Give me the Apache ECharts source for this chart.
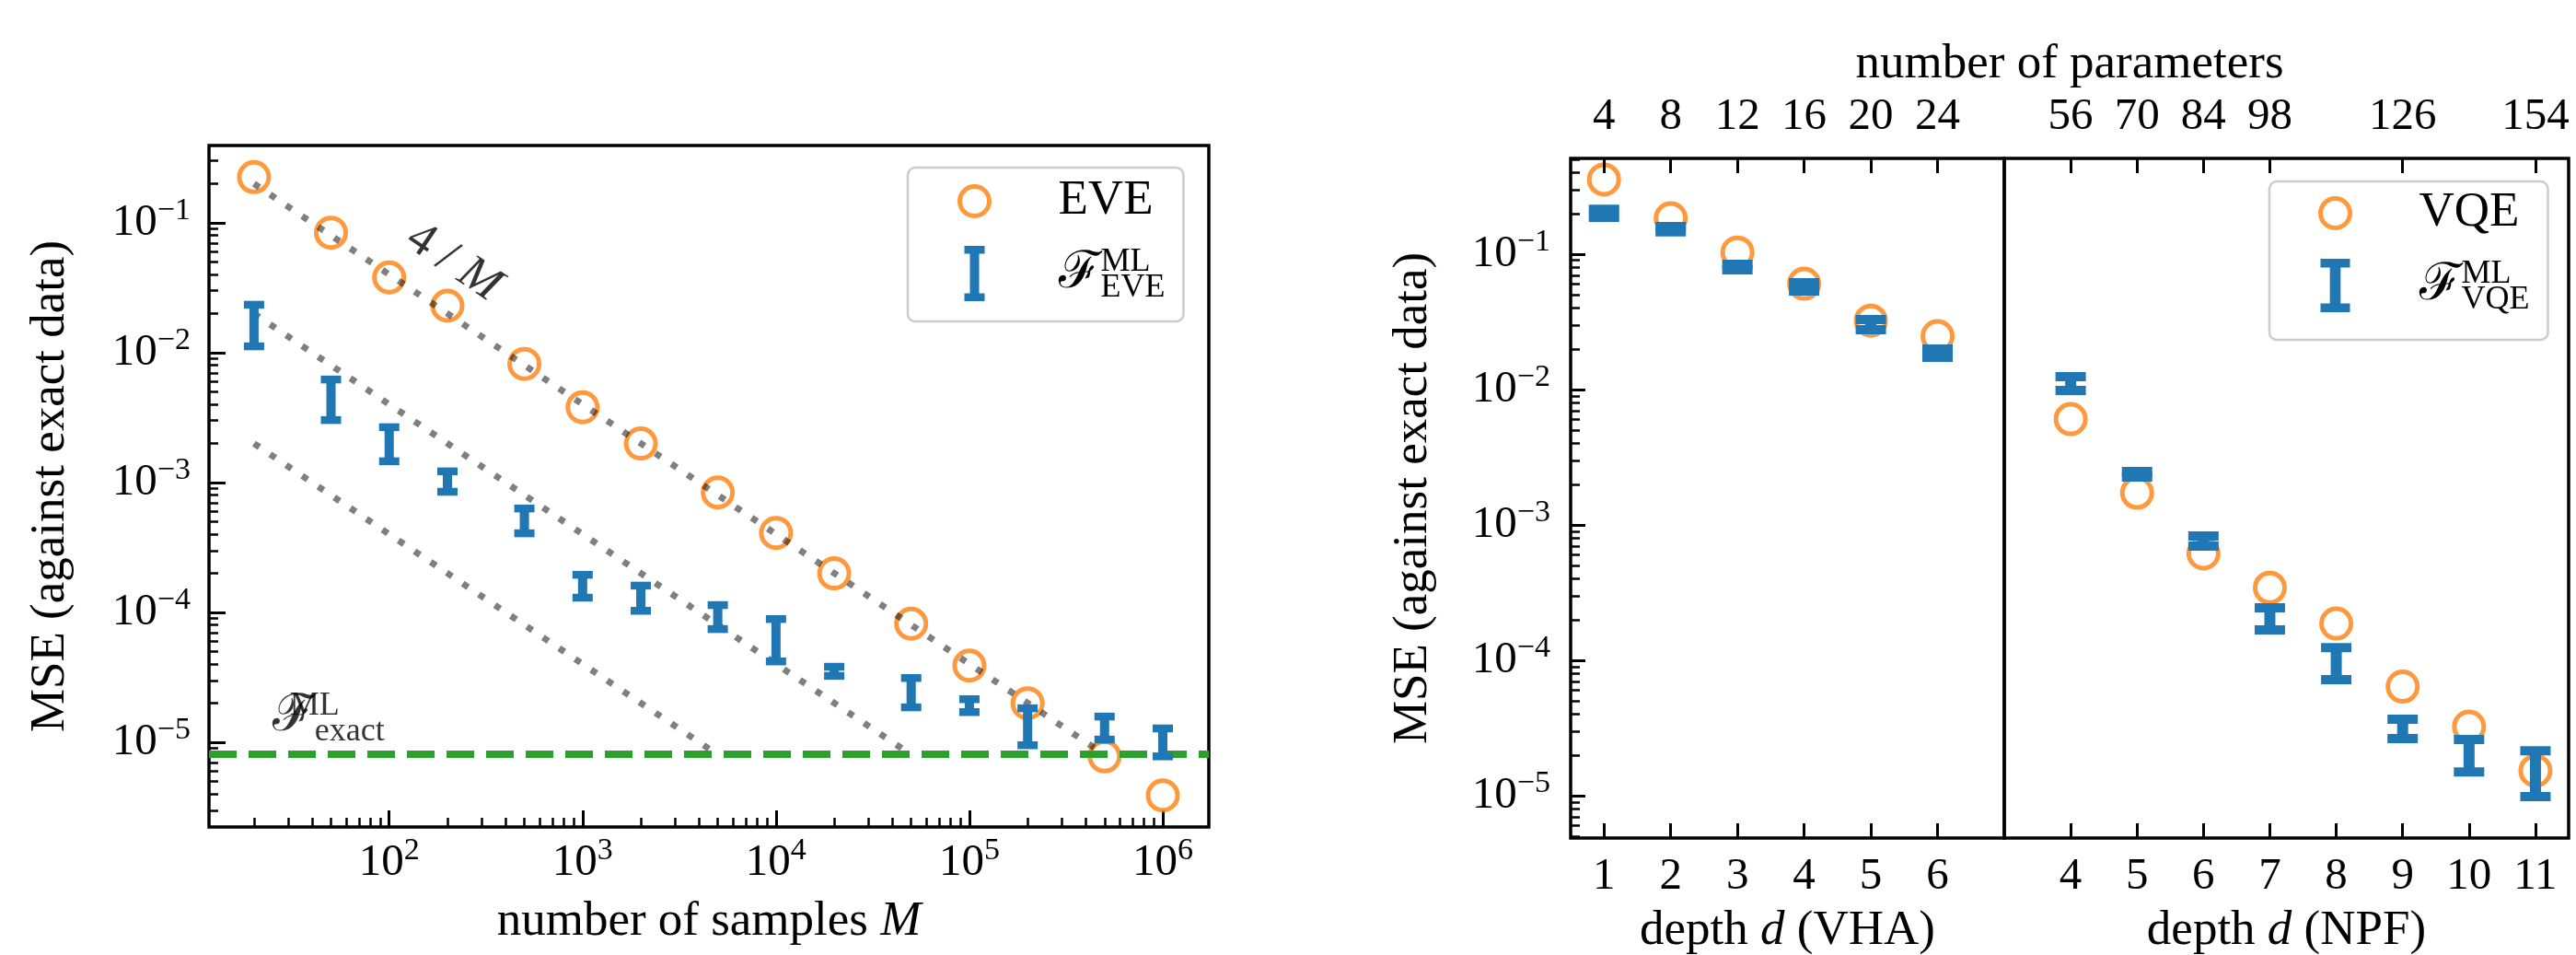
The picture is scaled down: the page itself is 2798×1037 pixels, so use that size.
<!DOCTYPE html>
<html>
<head>
<meta charset="utf-8">
<script src="https://cdn.jsdelivr.net/npm/echarts@6/dist/echarts.min.js"></script>
<style>
  html, body { margin: 0; padding: 0; background: #fff; }
  #chart { width: 2798px; height: 1037px; }
</style>
</head>
<body>
<div id="chart"></div>
<script>
// left panel: MSE against number of samples M
var samplesM = [20, 50, 100, 200, 500, 1000, 2000, 5000, 1e4, 2e4, 5e4, 1e5, 2e5, 5e5, 1e6];
var eveMse = [0.225, 0.084, 0.038, 0.023, 0.0082, 0.0038, 0.0020, 0.00084, 0.00041, 0.00020, 8.2e-5, 3.9e-5, 2.0e-5, 7.8e-6, 3.9e-6];
var eveMlLow = [0.0112, 3.03e-3, 1.46e-3, 8.5e-4, 4.07e-4, 1.30e-4, 1.03e-4, 7.45e-5, 4.2e-5, 3.25e-5, 1.86e-5, 1.71e-5, 9.5e-6, 1.05e-5, 7.8e-6];
var eveMlHigh = [0.0234, 6.22e-3, 2.67e-3, 1.22e-3, 6.32e-4, 1.95e-4, 1.61e-4, 1.14e-4, 8.9e-5, 3.82e-5, 3.13e-5, 2.15e-5, 1.83e-5, 1.58e-5, 1.28e-5];
var exactMse = 8.2e-6;
var guideA = [[20, 0.2], [4.9e5, 8.2e-6]];
var guideB = [[20, 0.02], [4.9e4, 8.2e-6]];
var guideC = [[20, 0.002], [4.9e3, 8.2e-6]];
var sampleDecades = [2, 3, 4, 5, 6];
var mseDecades = [-5, -4, -3, -2, -1];
var slopeLabelAt = [215, 0.0496];
var exactLabelAt = [48.5, 1.58e-5];

// right panel: VHA and NPF depths
var vhaDepth = [1, 2, 3, 4, 5, 6];
var vhaParams = [4, 8, 12, 16, 20, 24];
var vhaVqe = [0.356, 0.184, 0.103, 0.0605, 0.0323, 0.0248];
var vhaMlLow = [0.187, 0.146, 0.0766, 0.0534, 0.0277, 0.0173];
var vhaMlHigh = [0.215, 0.160, 0.0842, 0.0615, 0.0329, 0.0199];
var npfDepth = [4, 5, 6, 7, 8, 9, 10, 11];
var npfVqe = [6.05e-3, 1.73e-3, 6.16e-4, 3.44e-4, 1.87e-4, 6.4e-5, 3.24e-5, 1.53e-5];
var npfMlLow = [9.84e-3, 2.26e-3, 6.98e-4, 1.68e-4, 7.19e-5, 2.64e-5, 1.50e-5, 9.84e-6];
var npfMlHigh = [1.244e-2, 2.48e-3, 8.28e-4, 2.44e-4, 1.24e-4, 3.67e-5, 2.60e-5, 2.15e-5];
var npfParamDepth = [4, 5, 6, 7, 9, 11];
var npfParams = [56, 70, 84, 98, 126, 154];

var BLUE = '#1f77b4', ORANGE = '#ff7f0e', GREEN = '#2ca02c', GUIDE = 'rgba(0,0,0,0.5)';
var SERIF = '"Liberation Serif", "DejaVu Serif", serif';
var FS = 53, TICK = 49, SUP = 34;

function lg(v) { return Math.log10(v); }

function pairs(xs, ys, logX) {
    return xs.map(function (x, i) { return [logX ? lg(x) : x, lg(ys[i])]; });
}

function bars(xs, lo, hi, logX) {
    return xs.map(function (x, i) { return [logX ? lg(x) : x, lg(lo[i]), lg(hi[i])]; });
}

function guidePoints(g) {
    return g.map(function (p) { return [lg(p[0]), lg(p[1])]; });
}

function minorTicks(ext) {
    var out = [];
    for (var e = Math.floor(ext[0]); e <= Math.ceil(ext[1]); e++) {
        for (var k = 2; k <= 9; k++) {
            var v = e + Math.log10(k);
            if (v >= ext[0] && v <= ext[1]) out.push(v);
        }
    }
    return out;
}

function powLabel(v) {
    var e = Math.round(v);
    return '{b|10}{s|' + (e < 0 ? '\u2212' + (-e) : e) + '}';
}

function txt(extra) {
    var o = { fontFamily: SERIF, color: '#000', fontSize: FS };
    for (var k in extra) o[k] = extra[k];
    return o;
}

var powRich = {
    b: txt({ fontSize: TICK, lineHeight: 60 }),
    s: txt({ fontSize: SUP, lineHeight: 34, verticalAlign: 'top' })
};
var calRich = {
    t: txt({ lineHeight: 60 }),
    F: txt({ fontSize: 56, lineHeight: 60 }),
    u: txt({ fontSize: 36, lineHeight: 32, width: 0, padding: [2, 0, 26, 0] }),
    d: txt({ fontSize: 36, lineHeight: 28, padding: [32, 0, 0, 0] }),
    n: txt({ lineHeight: 60 }),
    i: txt({ lineHeight: 60, fontStyle: 'italic' })
};

var LEFT_X = [lg(11.7), lg(1.73e6)];
var LEFT_Y = [lg(2.23e-6), lg(0.394)];
var RIGHT_Y = [lg(4.87e-6), lg(0.51)];
var VHA_X = [0.5, 7.0];
var NPF_X = [3.0, 11.5];

function majorTick(values, len) {
    return { show: true, inside: true, length: len, lineStyle: { color: '#000', width: 3 }, customValues: values };
}
function minorTick(values) {
    return { show: true, inside: true, length: 10, lineStyle: { color: '#000', width: 2.5 }, customValues: values };
}
function baseAxis(grid, pos, ext) {
    return {
        type: 'value', gridIndex: grid, position: pos, min: ext[0], max: ext[1],
        axisLine: { show: false }, splitLine: { show: false }, minorTick: { show: false },
        axisTick: { show: false }, axisLabel: { show: false }
    };
}
function extend(a, extra) {
    for (var k in extra) a[k] = extra[k];
    return a;
}

function errorBarRenderer(capW, barW, capH) {
    return function (params, api) {
        var x = api.value(0);
        var top = api.coord([x, api.value(2)]);
        var bot = api.coord([x, api.value(1)]);
        var style = { fill: BLUE };
        return {
            type: 'group',
            children: [
                { type: 'rect', shape: { x: top[0] - barW / 2, y: top[1], width: barW, height: bot[1] - top[1] }, style: style },
                { type: 'rect', shape: { x: top[0] - capW / 2, y: top[1] - capH / 2, width: capW, height: capH }, style: style },
                { type: 'rect', shape: { x: bot[0] - capW / 2, y: bot[1] - capH / 2, width: capW, height: capH }, style: style }
            ]
        };
    };
}

var circleStyle = { color: 'rgba(0,0,0,0)', borderColor: ORANGE, borderWidth: 5 };
var guideStyle = { color: GUIDE, width: 7, type: [7, 14], cap: 'butt' };

var legendNames = {
    EVE: '{t|EVE}',
    F_EVE: '{F|\u2131}{u|ML}{d|EVE}',
    VQE: '{t|VQE}',
    F_VQE: '{F|\u2131}{u|ML}{d|VQE}'
};
function legendFormat(name) { return legendNames[name]; }

var gridBox = { show: true, borderColor: '#000', borderWidth: 3.5, backgroundColor: 'transparent', outerBoundsMode: 'none' };
var nameStyle = txt({ lineHeight: 60, rich: calRich });

var option = {
    animation: false,
    backgroundColor: '#fff',
    grid: [
        extend({ left: 227, top: 158, width: 1086, height: 740 }, gridBox),
        extend({ left: 1706, top: 172, width: 471, height: 738 }, gridBox),
        extend({ left: 2177, top: 172, width: 613, height: 738 }, gridBox)
    ],
    xAxis: [
        extend(baseAxis(0, 'bottom', LEFT_X), {
            axisTick: majorTick(sampleDecades, 18),
            axisLabel: { show: true, customValues: sampleDecades, margin: 9, formatter: powLabel, rich: powRich },
            name: '{n|number of samples }{i|M}', nameLocation: 'middle', nameGap: 73, nameTextStyle: nameStyle
        }),
        extend(baseAxis(0, 'bottom', LEFT_X), { axisTick: minorTick(minorTicks(LEFT_X)) }),
        extend(baseAxis(1, 'bottom', VHA_X), {
            axisTick: majorTick(vhaDepth, 16),
            axisLabel: txt({ show: true, fontSize: TICK, customValues: vhaDepth, margin: 18, lineHeight: 48 }),
            name: '{n|depth }{i|d}{n| (VHA)}', nameLocation: 'middle', nameGap: 62, nameTextStyle: nameStyle
        }),
        extend(baseAxis(1, 'top', VHA_X), {
            z: 10,
            axisTick: majorTick(vhaDepth, 16),
            axisLabel: txt({
                show: true, fontSize: TICK, customValues: vhaDepth, margin: 21, lineHeight: 48,
                formatter: function (v) { return String(vhaParams[vhaDepth.indexOf(Math.round(v))]); }
            })
        }),
        extend(baseAxis(2, 'bottom', NPF_X), {
            axisTick: majorTick(npfDepth, 16),
            axisLabel: txt({ show: true, fontSize: TICK, customValues: npfDepth, margin: 18, lineHeight: 48 }),
            name: '{n|depth }{i|d}{n| (NPF)}', nameLocation: 'middle', nameGap: 62, nameTextStyle: nameStyle
        }),
        extend(baseAxis(2, 'top', NPF_X), {
            z: 10,
            axisTick: majorTick(npfParamDepth, 16),
            axisLabel: txt({
                show: true, fontSize: TICK, customValues: npfParamDepth, margin: 21, lineHeight: 48,
                formatter: function (v) { return String(npfParams[npfParamDepth.indexOf(Math.round(v))]); }
            })
        })
    ],
    yAxis: [
        extend(baseAxis(0, 'left', LEFT_Y), {
            axisTick: majorTick(mseDecades, 18),
            axisLabel: { show: true, customValues: mseDecades, margin: 20, formatter: powLabel, rich: powRich },
            name: 'MSE (against exact data)', nameLocation: 'middle', nameRotate: 90, nameGap: 142,
            nameTextStyle: txt({ lineHeight: 60 })
        }),
        extend(baseAxis(0, 'left', LEFT_Y), { axisTick: minorTick(minorTicks(LEFT_Y)) }),
        extend(baseAxis(1, 'left', RIGHT_Y), {
            axisTick: majorTick(mseDecades, 16),
            axisLabel: { show: true, customValues: mseDecades, margin: 22, formatter: powLabel, rich: powRich },
            name: 'MSE (against exact data)', nameLocation: 'middle', nameRotate: 90, nameGap: 141,
            nameTextStyle: txt({ lineHeight: 60 })
        }),
        extend(baseAxis(1, 'left', RIGHT_Y), { axisTick: minorTick(minorTicks(RIGHT_Y)) }),
        baseAxis(2, 'left', RIGHT_Y)
    ],
    legend: [
        {
            left: 986, top: 182, orient: 'vertical', selectedMode: false,
            itemWidth: 32, itemHeight: 60, itemGap: 18, padding: [10, 20, 18, 54],
            borderColor: '#cccccc', borderWidth: 2.5, borderRadius: 8, backgroundColor: 'rgba(255,255,255,0.8)',
            formatter: legendFormat,
            textStyle: txt({ padding: [0, 0, 0, 70], rich: calRich }),
            data: [
                { name: 'EVE', icon: 'circle', itemStyle: circleStyle },
                { name: 'F_EVE', icon: 'path://M0,0H22V8.5H16V51.5H22V60H0V51.5H6V8.5H0Z', itemStyle: { color: BLUE, borderWidth: 0 } }
            ]
        },
        {
            left: 2465, top: 197, orient: 'vertical', selectedMode: false,
            itemWidth: 32, itemHeight: 60, itemGap: 18, padding: [8, 20, 25, 53],
            borderColor: '#cccccc', borderWidth: 2.5, borderRadius: 8, backgroundColor: 'rgba(255,255,255,0.8)',
            formatter: legendFormat,
            textStyle: txt({ padding: [0, 0, 0, 70], rich: calRich }),
            data: [
                { name: 'VQE', icon: 'circle', itemStyle: circleStyle },
                { name: 'F_VQE', icon: 'path://M0,0H33V10H22.5V50H33V60H0V50H10.5V10H0Z', itemStyle: { color: BLUE, borderWidth: 0 } }
            ]
        }
    ],
    graphic: [
        {
            type: 'text', x: 2248, y: 70, z: 10,
            style: { text: 'number of parameters', fontFamily: SERIF, fontSize: FS, fill: '#000', align: 'center', verticalAlign: 'middle' }
        }
    ],
    series: [
        {
            name: 'EVE', type: 'scatter', xAxisIndex: 0, yAxisIndex: 0, z: 2,
            symbol: 'circle', symbolSize: 32, itemStyle: circleStyle,
            data: pairs(samplesM, eveMse, true)
        },
        {
            type: 'line', xAxisIndex: 0, yAxisIndex: 0, z: 3, silent: true, symbol: 'none',
            lineStyle: guideStyle, data: guidePoints(guideA),
            markLine: {
                silent: true, symbol: 'none', z: 5, label: { show: false },
                lineStyle: { color: GREEN, width: 8, type: [30, 13], cap: 'butt' },
                data: [{ yAxis: lg(exactMse) }]
            }
        },
        {
            type: 'line', xAxisIndex: 0, yAxisIndex: 0, z: 3, silent: true, symbol: 'none',
            lineStyle: guideStyle, data: guidePoints(guideB)
        },
        {
            type: 'line', xAxisIndex: 0, yAxisIndex: 0, z: 3, silent: true, symbol: 'none',
            lineStyle: guideStyle, data: guidePoints(guideC)
        },
        {
            name: 'F_EVE', type: 'custom', xAxisIndex: 0, yAxisIndex: 0, z: 10,
            itemStyle: { color: BLUE }, encode: { x: 0, y: [1, 2] },
            renderItem: errorBarRenderer(22, 10, 8.5),
            data: bars(samplesM, eveMlLow, eveMlHigh, true)
        },
        {
            type: 'scatter', xAxisIndex: 0, yAxisIndex: 0, z: 6, silent: true,
            symbolSize: 1, itemStyle: { color: 'rgba(0,0,0,0)' },
            data: [[lg(slopeLabelAt[0]), lg(slopeLabelAt[1])]],
            label: { show: true, position: 'inside', rotate: -34, formatter: '{n|4 / }{i|M}', rich: calRich }
        },
        {
            type: 'scatter', xAxisIndex: 0, yAxisIndex: 0, z: 6, silent: true,
            symbolSize: 1, itemStyle: { color: 'rgba(0,0,0,0)' },
            data: [[lg(exactLabelAt[0]), lg(exactLabelAt[1])]],
            label: { show: true, position: 'inside', formatter: '{F|\u2131}{u|ML}{d|exact}', rich: calRich }
        },
        {
            name: 'VQE', type: 'scatter', xAxisIndex: 2, yAxisIndex: 2, z: 2,
            symbol: 'circle', symbolSize: 32, itemStyle: circleStyle,
            data: pairs(vhaDepth, vhaVqe, false)
        },
        {
            name: 'VQE', type: 'scatter', xAxisIndex: 4, yAxisIndex: 4, z: 2,
            symbol: 'circle', symbolSize: 32, itemStyle: circleStyle,
            data: pairs(npfDepth, npfVqe, false)
        },
        {
            name: 'F_VQE', type: 'custom', xAxisIndex: 2, yAxisIndex: 2, z: 10,
            itemStyle: { color: BLUE }, encode: { x: 0, y: [1, 2] },
            renderItem: errorBarRenderer(33, 12, 10),
            data: bars(vhaDepth, vhaMlLow, vhaMlHigh, false)
        },
        {
            name: 'F_VQE', type: 'custom', xAxisIndex: 4, yAxisIndex: 4, z: 10,
            itemStyle: { color: BLUE }, encode: { x: 0, y: [1, 2] },
            renderItem: errorBarRenderer(33, 12, 10),
            data: bars(npfDepth, npfMlLow, npfMlHigh, false)
        }
    ]
};

var chart = echarts.init(document.getElementById('chart'));
chart.setOption(option);
</script>
</body>
</html>
